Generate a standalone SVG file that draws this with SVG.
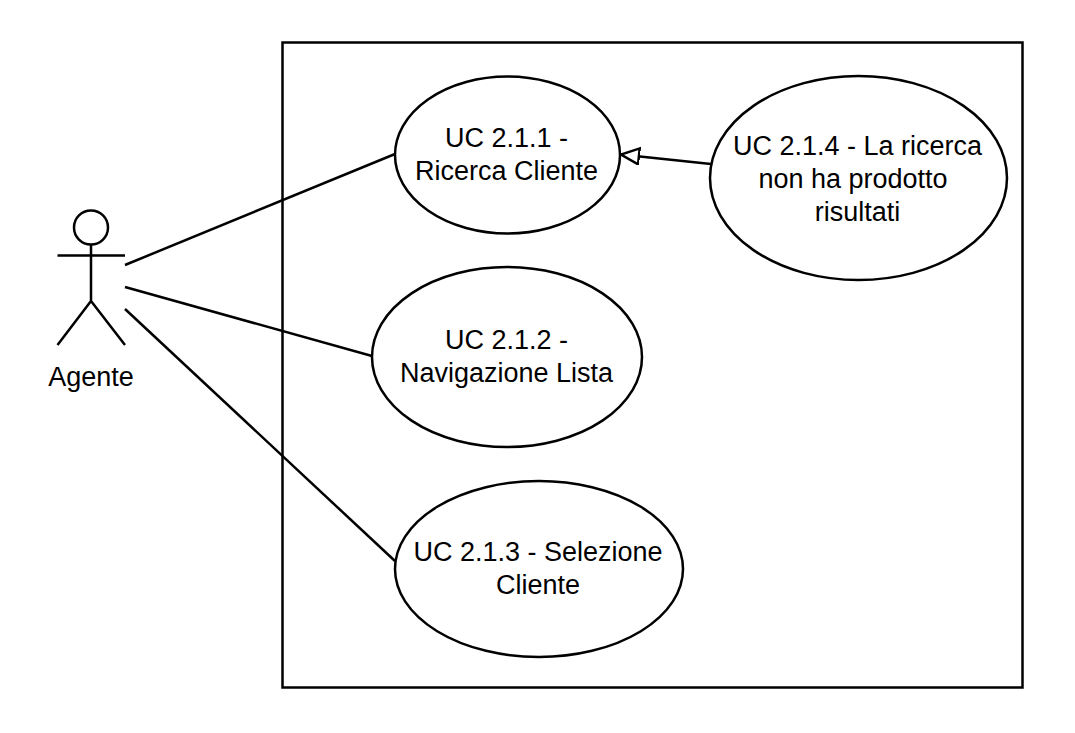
<svg xmlns="http://www.w3.org/2000/svg" width="1075" height="733" viewBox="0 0 1075 733">
<style>
.s{fill:#fff;stroke:#000;stroke-width:2.5}
.l{fill:none;stroke:#000;stroke-width:2.5}
text{font-family:"Liberation Sans",Arial,sans-serif;font-size:27px;fill:#000;text-anchor:middle}
</style>
<defs><marker id="tri" markerUnits="userSpaceOnUse" markerWidth="22" markerHeight="20" refX="19" refY="9" orient="auto"><path d="M1 1L19 9L1 17Z" fill="#fff" stroke="#000" stroke-width="2.500"/></marker></defs>
<rect width="1075" height="733" fill="#fff"/>
<g id="system"><rect x="282.500" y="42.500" width="740" height="645" fill="none" stroke="#000" stroke-width="2.500"/></g>
<g id="connectors">
<path class="l" d="M125 265L395 154"/>
<path class="l" d="M125 287L372 356"/>
<path class="l" d="M125 309L395 561"/>
<path class="l" d="M711 164L621 154.500" marker-end="url(#tri)"/>
</g>
<g id="actor"><circle class="s" cx="91" cy="227.500" r="17"/><path class="l" d="M91 244.500V301M57.500 255.500H125M91 301L57.500 345M91 301L125 345"/><text x="91" y="386">Agente</text></g>
<g id="uc211"><ellipse class="s" cx="507.500" cy="155" rx="112.500" ry="78.500"/><text x="506.500" y="147">UC 2.1.1 -</text><text x="506.500" y="180">Ricerca Cliente</text></g>
<g id="uc212"><ellipse class="s" cx="507" cy="357" rx="135" ry="90"/><text x="506.500" y="349">UC 2.1.2 -</text><text x="506.500" y="382">Navigazione Lista</text></g>
<g id="uc213"><ellipse class="s" cx="539" cy="569" rx="144" ry="88"/><text x="538" y="561">UC 2.1.3 - Selezione</text><text x="538" y="594">Cliente</text></g>
<g id="uc214"><ellipse class="s" cx="858.500" cy="178" rx="148.500" ry="102"/><text x="857.500" y="155">UC 2.1.4 - La ricerca</text><text x="853" y="188">non ha prodotto</text><text x="857.500" y="221">risultati</text></g>
</svg>
